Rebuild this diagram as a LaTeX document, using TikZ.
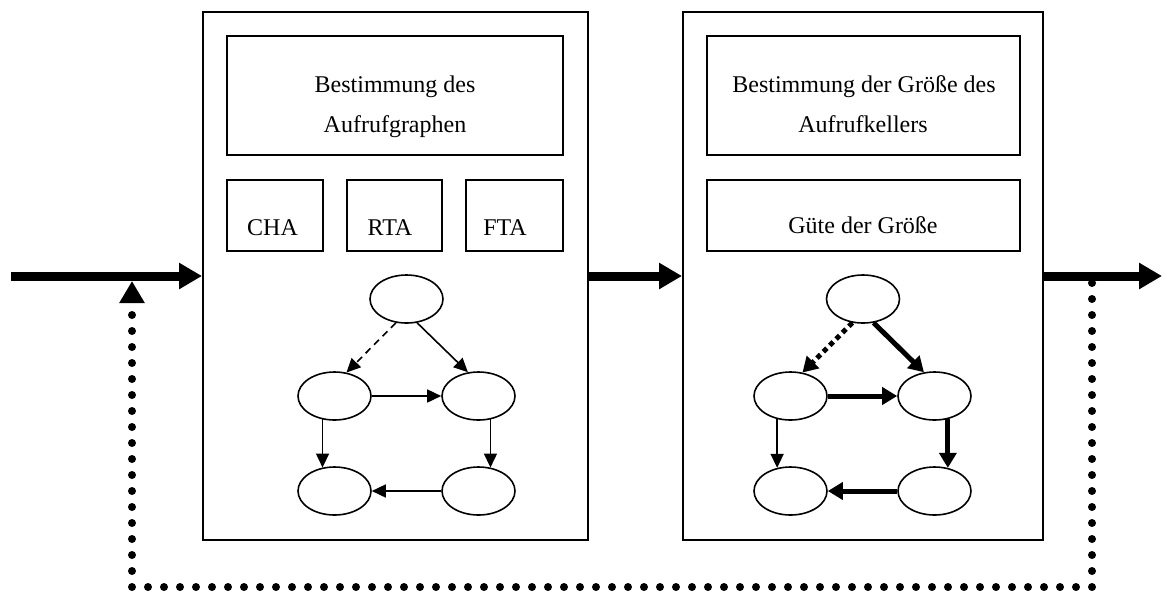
\documentclass[tikz,border=0pt]{standalone}
\usepackage{fontspec}
\setmainfont{Liberation Serif}
\usetikzlibrary{arrows.meta,shapes.geometric}

\begin{document}
\begin{tikzpicture}[x=1pt,y=-1pt,
  every node/.style={font=\fontsize{24}{40}\selectfont},
  frame/.style={draw, line width=2pt, rectangle, inner sep=0pt},
  label/.style={anchor=base, inner sep=0pt},
  vert/.style={draw, ellipse, line width=1.6pt, minimum width=73pt, minimum height=48pt, inner sep=0pt},
  flow/.style={line width=9pt, -{Triangle[length=23pt,width=25pt]}},
  thinedge/.style={line width=1.6pt, -{Triangle[length=14pt,width=13pt]}},
  thickedge/.style={line width=5pt, -{Triangle[length=15pt,width=17pt]}},
  feedback/.style={line width=8pt, line cap=round, dash pattern=on 0pt off 16pt,
                   -{Triangle[length=22pt,width=24pt]}}
]
\useasboundingbox (0,0) rectangle (1164,590);

% --- stage 1: call graph construction ---
\node[frame, minimum width=385pt, minimum height=528pt] (s1) at (395.5,276) {};
\node[frame, minimum width=336pt, minimum height=119pt] (s1top) at (395,95.5) {};
\node[label] (s1t1) at (395,92) {Bestimmung des};
\node[label] (s1t2) at (395,132) {Aufrufgraphen};
\node[frame, minimum width=96pt, minimum height=71pt] (cha) at (275,215.5) {};
\node[frame, minimum width=95pt, minimum height=71pt] (rta) at (394.5,215.5) {};
\node[frame, minimum width=97pt, minimum height=71pt] (fta) at (514.5,215.5) {};
\node[label] (chat) at (272.5,235) {CHA};
\node[label] (rtat) at (390,235) {RTA};
\node[label] (ftat) at (505,235) {FTA};

\node[vert] (a0) at (406.5,299) {};
\node[vert] (a1) at (334.5,396) {};
\node[vert] (a2) at (478.5,396) {};
\node[vert] (a3) at (334.5,491) {};
\node[vert] (a4) at (478.5,491) {};
\draw[thinedge, dash pattern=on 7pt off 5pt] (a0.246) -- (a1.63);
\draw[thinedge] (a0.294) -- (a2.114);
\draw[thinedge] (a1.east) -- (a2.west);
\draw[thinedge] (a1.243) -- (a3.117);
\draw[thinedge] (a2.297) -- (a4.63);
\draw[thinedge] (a4.west) -- (a3.east);

% --- stage 2: call stack size ---
\node[frame, minimum width=360pt, minimum height=528pt] (s2) at (863,276) {};
\node[frame, minimum width=313pt, minimum height=119pt] (s2top) at (863.5,95.5) {};
\node[label] (s2t1) at (864,92) {Bestimmung der Größe des};
\node[label] (s2t2) at (863,132) {Aufrufkellers};
\node[frame, minimum width=313pt, minimum height=71pt] (qual) at (863.5,215.5) {};
\node[label] (qualt) at (863,233) {Güte der Größe};

\node[vert] (b0) at (863,299) {};
\node[vert] (b1) at (790.5,396) {};
\node[vert] (b2) at (934.5,396) {};
\node[vert] (b3) at (790.5,491) {};
\node[vert] (b4) at (934.5,491) {};
\draw[thickedge, dash pattern=on 5pt off 4pt] (b0.246) -- (b1.63);
\draw[thickedge] (b0.294) -- (b2.114);
\draw[thickedge] (b1.east) -- (b2.west);
\draw[thinedge] (b1.240) -- (b3.120);
\draw[thickedge] (b2.300) -- (b4.60);
\draw[thickedge] (b4.west) -- (b3.east);

% --- main flow ---
\coordinate (in) at (11,276);
\coordinate (out) at (1162,276);
\draw[flow] (in) -- (s1.west);
\draw[flow] (s1.east) -- (s2.west);
\draw[flow] (s2.east) -- (out);

% --- feedback loop ---
\coordinate (fbR) at (1092,283);
\coordinate (fbC1) at (1092,587);
\coordinate (fbC2) at (132,587);
\coordinate (fbL) at (132,281);
\draw[feedback] (fbR) -- (fbC1) -- (fbC2) -- (fbL);
\end{tikzpicture}
\end{document}
